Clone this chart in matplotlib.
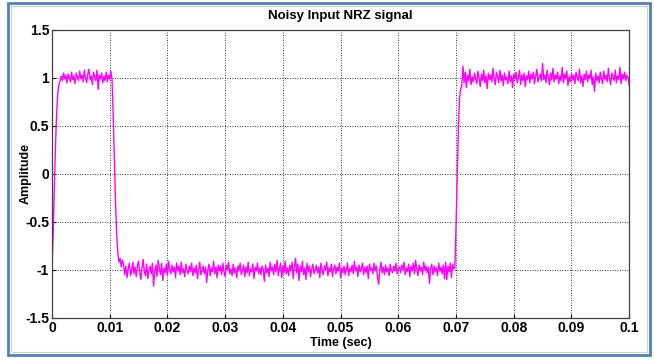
import numpy as np
import matplotlib
matplotlib.use("Agg")
import matplotlib.pyplot as plt
from matplotlib.patches import Rectangle

plt.rcParams['font.family'] = ['Liberation Sans', 'DejaVu Sans']

rise1 = [-1.00, -0.62, -0.18, 0.28, 0.62, 0.84, 0.93, 0.97]
high1 = [1.02, 0.97, 1.05, 0.99, 1.03, 0.95, 1.04, 1.00, 0.96, 1.06,
         0.98, 1.02, 0.94, 1.05, 1.01, 0.97, 1.07, 0.99, 1.03, 0.96,
         1.08, 1.00, 0.95, 1.04, 1.09, 0.98, 1.02, 0.93, 1.06, 1.01,
         0.97, 1.08, 0.88, 1.03, 0.99, 1.05, 0.95, 1.02, 0.97, 1.06,
         0.96, 1.03, 0.99, 1.07]
fall1 = [0.98, 0.62, 0.18, -0.28, -0.62, -0.82, -0.92, -0.88, -0.97]
low1 = [-0.90, -0.94, -1.05, -0.96, -1.08, -0.99, -0.93, -1.06, -1.01, -0.92, -1.04, -0.97,
        -1.07, -0.95, -0.91, -1.03, -1.10, -0.98, -0.89, -1.02, -1.06, -0.94, -1.09, -1.00,
        -0.96, -1.04, -0.93, -1.17, -1.01, -0.95, -1.07, -0.90, -0.99, -1.05, -0.93, -1.11,
        -0.98, -1.03, -0.94, -1.06, -0.91, -1.00, -1.04, -0.95, -1.02, -0.97, -1.08, -0.93,
        -1.01, -0.96, -1.05, -0.92, -1.03, -0.99, -1.07, -0.94, -1.00, -1.04, -0.96, -1.02,
        -0.93, -1.06, -0.98, -1.03, -0.95, -1.09, -0.99, -0.92, -1.05, -1.01, -0.96, -1.04,
        -0.97, -1.13, -1.00, -0.94, -1.06, -0.98, -1.02, -0.91, -1.04, -0.97, -1.08, -0.95,
        -1.01, -0.96, -1.05, -0.93, -1.02, -1.07, -0.95, -1.00, -0.92, -1.04, -0.99, -1.06,
        -0.94, -1.03, -0.98, -1.08, -0.96, -1.01, -0.93, -1.05, -1.00, -0.95, -1.07, -0.97,
        -1.03, -0.92, -1.06, -0.99, -1.02, -0.94, -1.09, -0.97, -1.01, -0.93, -1.04, -0.98,
        -1.05, -0.96, -1.00, -1.12, -0.95, -1.03, -0.98, -1.07, -0.92, -1.01, -0.97, -1.05,
        -0.94, -1.02, -0.90, -1.06, -0.99, -0.93, -1.08, -0.96, -1.03, -0.91, -1.04, -0.98,
        -1.06, -0.95, -1.01, -0.92, -1.09, -0.97, -0.88, -1.03, -0.94, -1.11, -0.96, -1.02,
        -0.91, -1.05, -0.98, -1.10, -0.93, -1.02, -0.96, -1.07, -0.99, -0.94, -1.04, -1.00,
        -0.95, -1.03, -0.97, -1.08, -0.93, -1.01, -1.05, -0.96, -1.00, -0.92, -1.06, -0.98,
        -1.02, -0.94, -1.07, -0.99, -0.95, -1.04, -0.97, -1.01, -0.93, -1.08, -0.98, -1.03,
        -0.96, -1.05, -1.00, -0.93, -1.06, -0.98, -1.02, -0.95, -1.04, -0.91, -1.01, -0.97,
        -1.07, -0.95, -1.02, -0.99, -0.93, -1.05, -0.97, -1.03, -0.96, -1.09, -0.94, -1.00,
        -0.98, -1.04, -0.93, -1.01, -0.96, -1.08, -1.15, -0.99, -0.92, -1.03, -0.97, -1.05,
        -0.95, -1.02, -0.98, -1.06, -0.94, -1.00, -1.03, -0.96, -1.01, -0.93, -1.04, -0.99,
        -0.97, -1.03, -0.95, -1.00, -0.92, -1.05, -0.98, -1.02, -0.94, -1.07, -0.96, -1.01,
        -0.93, -1.04, -0.90, -0.99, -1.06, -0.95, -1.01, -0.97, -1.05, -0.92, -1.00, -0.96,
        -1.03, -0.97, -1.14, -0.99, -0.94, -1.05, -0.96, -1.02, -0.98, -1.06, -0.93, -1.01,
        -0.97, -1.04, -0.95, -1.09, -0.92, -1.10, -0.96, -1.02, -0.93, -1.08, -0.94, -0.99]
rise2 = [-0.98, -0.55, -0.05, 0.45, 0.78, 0.88, 0.92]
high2 = [1.12, 0.95, 1.06, 0.90, 1.03, 0.97, 1.09, 0.93, 1.01, 0.96, 1.05, 0.99,
         0.94, 1.07, 1.00, 0.91, 1.04, 0.97, 1.08, 0.95, 1.02, 0.89, 1.05, 0.98,
         1.03, 0.96, 1.10, 0.99, 0.93, 1.06, 1.01, 0.95, 1.08, 0.97, 1.03, 0.92,
         1.05, 0.98, 1.01, 0.94, 1.07, 0.96, 1.02, 0.90, 1.04, 0.99, 1.06, 0.95,
         1.00, 1.08, 0.93, 1.03, 0.97, 1.05, 0.91, 1.02, 0.98, 1.07, 0.95, 1.04,
         0.99, 1.06, 0.94, 1.02, 1.09, 0.96, 1.01, 1.04, 0.97, 1.15, 0.98, 1.03,
         0.95, 1.08, 1.00, 0.93, 1.05, 0.98, 1.10, 0.96, 1.03, 0.99, 1.06, 0.94,
         1.02, 0.97, 1.11, 0.95, 1.04, 0.99, 1.07, 0.92, 1.01, 0.96, 1.05, 0.98,
         1.03, 0.94, 1.06, 1.00, 0.97, 1.09, 0.95, 1.02, 0.91, 1.04, 0.98, 1.07,
         0.96, 1.03, 0.99, 1.08, 0.93, 1.01, 0.86, 1.05, 0.97, 1.02, 0.95, 1.06,
         1.00, 0.94, 1.07, 0.98, 1.03, 0.96, 1.10, 0.99, 0.93, 1.05, 1.01, 0.97,
         1.08, 0.95, 1.02, 0.98, 1.11, 0.94, 1.04, 0.99, 1.06, 0.97, 1.03, 1.00,
         0.92]

amplitude = np.array(rise1 + high1 + fall1 + low1 + rise2 + high2)
t_end = 0.1
time = np.linspace(0, t_end, len(amplitude))

xticks = [0, 0.01, 0.02, 0.03, 0.04, 0.05, 0.06, 0.07, 0.08, 0.09, 0.1]
xticklabels = ['0', '0.01', '0.02', '0.03', '0.04', '0.05', '0.06', '0.07', '0.08', '0.09', '0.1']
yticks = [-1.5, -1, -0.5, 0, 0.5, 1, 1.5]
yticklabels = ['-1.5', '-1', '-0.5', '0', '0.5', '1', '1.5']

fig = plt.figure(figsize=(6.54, 3.6), dpi=100)
ax = fig.add_axes([0.0795, 0.117, 0.8825, 0.8])

ax.plot(time, amplitude, color='#ff00ff', lw=1.0)

ax.set_xlim(0, 0.1)
ax.set_ylim(-1.5, 1.5)
ax.set_xticks(xticks)
ax.set_xticklabels(xticklabels)
ax.set_yticks(yticks)
ax.set_yticklabels(yticklabels)
ax.tick_params(direction='in', length=3, labelsize=10, pad=2)
for lab in ax.get_xticklabels() + ax.get_yticklabels():
    lab.set_fontweight('bold')
ax.grid(True, color='black', linestyle=(0, (1, 2)), linewidth=0.6)
for s in ax.spines.values():
    s.set_color('#404040')
    s.set_linewidth(0.9)

ax.set_title('Noisy Input NRZ signal', fontsize=9.5, fontweight='bold', pad=8)
ax.set_xlabel('Time (sec)', fontsize=9, fontweight='bold', labelpad=2)
ax.set_ylabel('Amplitude', fontsize=9, fontweight='bold')
ax.yaxis.set_label_coords(-0.036, 0.5)

# frame around the figure
fig.patches.append(Rectangle((8 / 654, 5 / 360), 642 / 654, 352 / 360, transform=fig.transFigure,
                             fill=False, edgecolor='#4f81bd', lw=2.0))
fig.patches.append(Rectangle((11 / 654, 8 / 360), 636 / 654, 346 / 360, transform=fig.transFigure,
                             fill=False, edgecolor='#d0d0d0', lw=0.8))

fig.savefig('out.png', dpi=100)
